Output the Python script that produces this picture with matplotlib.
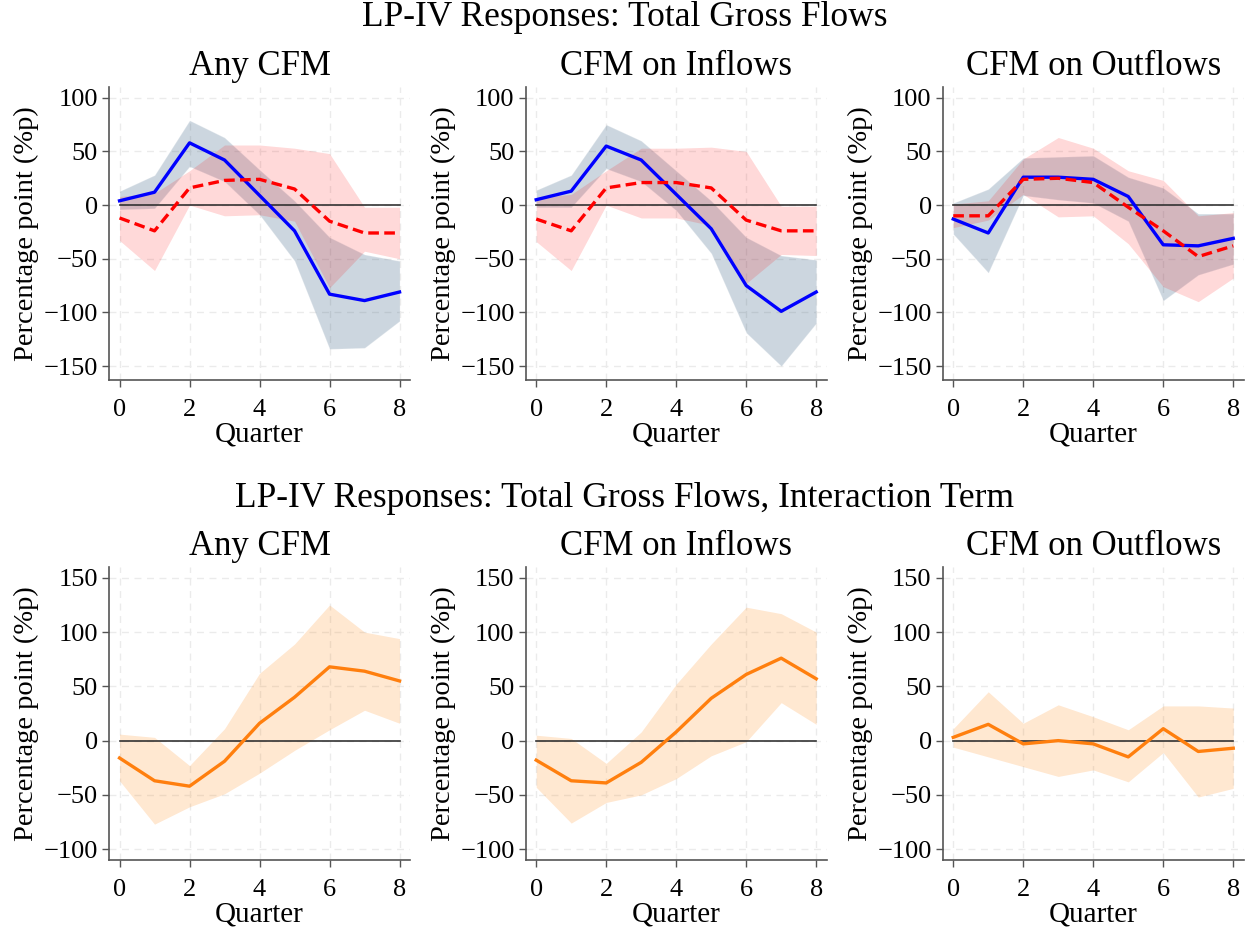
import numpy as np
import matplotlib
matplotlib.use("Agg")
import matplotlib.pyplot as plt

plt.rcParams['font.family'] = ['Liberation Serif', 'DejaVu Serif']

quarters = [0, 1, 2, 3, 4, 5, 6, 7, 8]
panel_titles = ["Any CFM", "CFM on Inflows", "CFM on Outflows"]

# top row: blue solid series with band, red dashed series with band
top_blue = [
    [4, 12, 58, 42, 9, -24, -83, -89, -81],
    [5, 13, 55, 42, 10, -22, -75, -99, -81],
    [-13, -26, 26, 26, 24, 8, -37, -38, -31],
]
top_blue_hi = [
    [13, 28, 79, 63, 33, 4, -30, -46, -52],
    [14, 28, 75, 60, 32, 4, -30, -47, -51],
    [2, 15, 44, 45, 46, 26, 16, -8, -8],
]
top_blue_lo = [
    [-4, -3, 36, 22, -9, -52, -134, -133, -108],
    [-2, -2, 34, 22, -5, -45, -119, -150, -110],
    [-27, -63, 9, 5, 2, -15, -89, -65, -55],
]
top_red = [
    [-12, -24, 16, 23, 24, 15, -15, -26, -26],
    [-13, -24, 16, 21, 21, 16, -14, -24, -24],
    [-10, -10, 24, 25, 21, -2, -24, -48, -38],
]
top_red_hi = [
    [8, 11, 32, 56, 56, 53, 48, -2, -2],
    [7, 10, 32, 53, 53, 54, 50, -1, -1],
    [1, 4, 43, 63, 53, 32, 23, -10, -7],
]
top_red_lo = [
    [-33, -61, 0, -10, -9, -15, -77, -43, -50],
    [-34, -61, 0, -12, -12, -19, -73, -46, -47],
    [-21, -14, 10, -11, -10, -36, -76, -90, -68],
]

# bottom row: interaction term
bot_orange = [
    [-16, -37, -42, -19, 16, 40, 68, 64, 55],
    [-18, -37, -39, -20, 8, 39, 61, 76, 57],
    [3, 15, -3, 0, -3, -15, 11, -10, -7],
]
bot_orange_hi = [
    [6, 3, -23, 11, 62, 89, 125, 100, 94],
    [5, 2, -21, 8, 52, 89, 123, 117, 100],
    [11, 45, 16, 33, 22, 10, 32, 32, 30],
]
bot_orange_lo = [
    [-37, -77, -61, -49, -30, -9, 10, 28, 16],
    [-43, -76, -57, -50, -35, -14, -1, 35, 15],
    [-6, -15, -24, -33, -27, -38, -11, -52, -44],
]

suptitles = ["LP-IV Responses: Total Gross Flows",
             "LP-IV Responses: Total Gross Flows, Interaction Term"]

fig = plt.figure(figsize=(12.49, 9.30), dpi=100)
lefts = [0.0873, 0.4209, 0.7548]
width = 0.241
row_bottoms = [0.5914, 0.0753]
height = 0.315


def style_axes(ax, yticks, ylim):
    ax.set_xlim(-0.3, 8.3)
    ax.set_ylim(*ylim)
    ax.set_xticks([0, 2, 4, 6, 8])
    ax.set_yticks(yticks)
    ax.grid(True, color='#ebebeb', linestyle=(0, (5, 4)), linewidth=1.0)
    ax.set_axisbelow(True)
    for s in ['top', 'right']:
        ax.spines[s].set_visible(False)
    for s in ['left', 'bottom']:
        ax.spines[s].set_color('#555555')
        ax.spines[s].set_linewidth(1.2)
    ax.tick_params(axis='both', direction='out', length=5, width=1.0,
                   color='#555555', labelsize=19)
    ax.tick_params(axis='x', pad=9)
    ax.tick_params(axis='y', pad=3)
    ax.set_xlabel("Quarter", fontsize=21, labelpad=0)
    ax.set_ylabel("Percentage point (%p)", fontsize=20.5, labelpad=3)


for i in range(3):
    ax = fig.add_axes([lefts[i], row_bottoms[0], width, height])
    ax.fill_between(quarters, top_blue_lo[i], top_blue_hi[i],
                    color='#1a476f', alpha=0.22, linewidth=0.8, edgecolor='white')
    ax.fill_between(quarters, top_red_lo[i], top_red_hi[i],
                    color='red', alpha=0.15, linewidth=0)
    ax.plot(quarters, [0] * len(quarters), color='#333333', linewidth=1.2)
    ax.plot(quarters, top_blue[i], color='blue', linewidth=2.4)
    ax.plot(quarters, top_red[i], color='red', linewidth=2.4, dashes=(3.2, 1.6))
    style_axes(ax, [-150, -100, -50, 0, 50, 100], (-163, 110))
    ax.set_title(panel_titles[i], fontsize=25, pad=9)

for i in range(3):
    ax = fig.add_axes([lefts[i], row_bottoms[1], width, height])
    ax.fill_between(quarters, bot_orange_lo[i], bot_orange_hi[i],
                    color='#ff8c1a', alpha=0.2, linewidth=0)
    ax.plot(quarters, [0] * len(quarters), color='#333333', linewidth=1.2)
    ax.plot(quarters, bot_orange[i], color='#ff7f0e', linewidth=2.4)
    style_axes(ax, [-100, -50, 0, 50, 100, 150], (-110, 160))
    ax.set_title(panel_titles[i], fontsize=25, pad=9)

fig.text(0.5, 1 - 18 / 930, suptitles[0], ha='center', va='center', fontsize=25.5)
fig.text(0.5, 1 - 498 / 930, suptitles[1], ha='center', va='center', fontsize=25.5)

fig.savefig("out.png", dpi=100)
